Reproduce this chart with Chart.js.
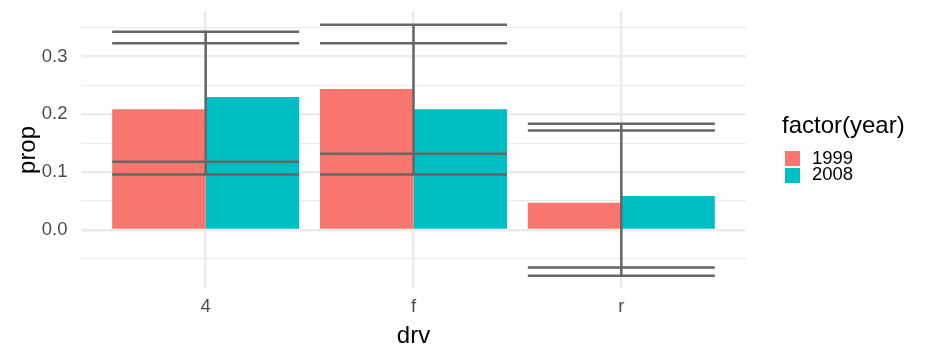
<!DOCTYPE html>
<html>
<head>
<meta charset="utf-8">
<script src="https://cdn.jsdelivr.net/npm/chart.js@4.4.0/dist/chart.umd.min.js"></script>
<style>
  html, body { margin: 0; padding: 0; background: #fff; }
  #wrap { position: relative; width: 936px; height: 360px; font-family: 'Liberation Sans', Arial, sans-serif; }
  #chart { position: absolute; left: 0; top: 0; }
  .lg { position: absolute; line-height: 1; white-space: nowrap; }
  .key { position: absolute; width: 14.5px; height: 14.5px; }
</style>
</head>
<body>
<div id="wrap">
  <canvas id="chart" width="936" height="360"></canvas>
  <div class="lg" style="left:782px; top:113.4px; font-size:24px; color:#000;">factor(year)</div>
  <div class="key" id="key0" style="left:785px; top:151px;"></div>
  <div class="key" id="key1" style="left:785px; top:168px;"></div>
  <div class="lg" id="lab0" style="left:812px; top:148.6px; font-size:18.5px; color:#000;"></div>
  <div class="lg" id="lab1" style="left:812px; top:165.3px; font-size:18.5px; color:#000;"></div>
</div>
<script>
const drv = ['4', 'f', 'r'];
const years = ['1999', '2008'];
const prop1999 = [0.209, 0.244, 0.047];
const prop2008 = [0.230, 0.209, 0.059];
// error bar ends (not dodged, both sit on the category centre)
const lo1999 = [0.096, 0.132, -0.079];
const hi1999 = [0.323, 0.355, 0.172];
const lo2008 = [0.118, 0.096, -0.065];
const hi2008 = [0.343, 0.323, 0.184];
const yTicks = [-0.05, 0, 0.05, 0.1, 0.15, 0.2, 0.25, 0.3, 0.35];
const colors = ['#F8766D', '#00BFC4'];

years.forEach(function(y, i){
    document.getElementById('key' + i).style.background = colors[i];
    document.getElementById('lab' + i).textContent = y;
});

function isMajor(v){
    return Math.abs(v * 10 - Math.round(v * 10)) < 1e-6;
}

// segments for the error bars, split by null points
const errPoints = [];
function addBar(c, lo, hi){
    errPoints.push({x: c - 0.45, y: lo}, {x: c + 0.45, y: lo}, {x: c, y: null});
    errPoints.push({x: c - 0.45, y: hi}, {x: c + 0.45, y: hi}, {x: c, y: null});
    errPoints.push({x: c, y: lo}, {x: c, y: hi}, {x: c, y: null});
}
drv.forEach(function(d, i){
    addBar(i + 1, lo1999[i], hi1999[i]);
    addBar(i + 1, lo2008[i], hi2008[i]);
});

const font = "'Liberation Sans', Arial, sans-serif";

const chart = new Chart(document.getElementById('chart'), {
    type: 'bar',
    data: {
        datasets: [
            {
                type: 'line',
                data: errPoints,
                borderColor: '#666666',
                borderWidth: 2.5,
                pointRadius: 0,
                fill: false,
                spanGaps: false,
                tension: 0,
                order: 0
            },
            {
                label: years[0],
                data: drv.map((d, i) => ({x: i + 1, y: prop1999[i]})),
                backgroundColor: colors[0],
                borderWidth: 0,
                categoryPercentage: 0.9,
                barPercentage: 1,
                order: 1
            },
            {
                label: years[1],
                data: drv.map((d, i) => ({x: i + 1, y: prop2008[i]})),
                backgroundColor: colors[1],
                borderWidth: 0,
                categoryPercentage: 0.9,
                barPercentage: 1,
                order: 1
            }
        ]
    },
    options: {
        responsive: false,
        animation: false,
        layout: { padding: { top: 11.6, right: 190, bottom: 0, left: 0 } },
        plugins: {
            legend: { display: false },
            tooltip: { enabled: false }
        },
        scales: {
            x: {
                type: 'linear',
                min: 0.4,
                max: 3.6,
                offset: false,
                afterBuildTicks: function(axis){
                    axis.ticks = drv.map((d, i) => ({value: i + 1}));
                },
                afterFit: function(axis){
                    axis.height = 71.7;
                    axis.paddingLeft = 0;
                    axis.paddingRight = 0;
                },
                border: { display: false },
                grid: { color: '#EBEBEB', lineWidth: 2.5, drawTicks: false, offset: false },
                ticks: {
                    padding: 7.6,
                    color: '#4D4D4D',
                    font: { family: font, size: 18.5 },
                    maxRotation: 0,
                    callback: v => drv[v - 1]
                },
                title: {
                    display: true,
                    text: 'drv',
                    color: '#000',
                    font: { family: font, size: 24 },
                    padding: { top: 0, bottom: 8.9 }
                }
            },
            y: {
                min: -0.1008,
                max: 0.3778,
                afterBuildTicks: function(axis){
                    axis.ticks = yTicks.map(v => ({value: v}));
                },
                afterFit: function(axis){
                    axis.width = 81;
                    axis.paddingTop = 0;
                    axis.paddingBottom = 0;
                },
                border: { display: false },
                grid: {
                    color: '#EBEBEB',
                    lineWidth: ctx => isMajor(ctx.tick.value) ? 2.5 : 1.25,
                    drawTicks: false
                },
                ticks: {
                    padding: 13.5,
                    color: '#4D4D4D',
                    font: { family: font, size: 18.5 },
                    callback: v => isMajor(v) ? v.toFixed(1) : ''
                },
                title: {
                    display: true,
                    text: 'prop',
                    color: '#000',
                    font: { family: font, size: 24 },
                    padding: { top: 13.5, bottom: 0 }
                }
            }
        }
    }
});
</script>
</body>
</html>
